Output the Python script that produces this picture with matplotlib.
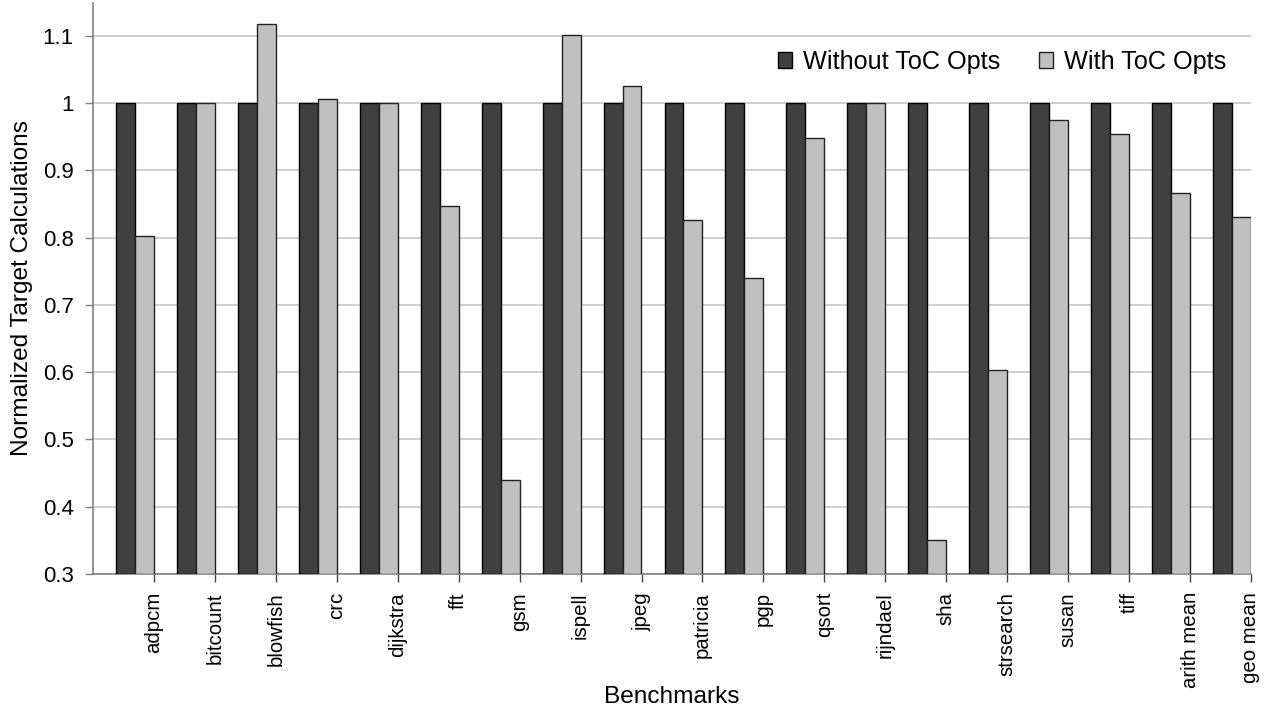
import numpy as np
import matplotlib
matplotlib.use("Agg")
import matplotlib.pyplot as plt

# ---------------- DATA ----------------
benchmarks = ["adpcm", "bitcount", "blowfish", "crc", "dijkstra", "fft", "gsm",
              "ispell", "jpeg", "patricia", "pgp", "qsort", "rijndael", "sha",
              "strsearch", "susan", "tiff", "arith mean", "geo mean"]
without_opts = [1.0] * 19
with_opts = [0.803, 1.0, 1.118, 1.007, 1.0, 0.847, 0.440, 1.101, 1.025, 0.826,
             0.740, 0.949, 1.0, 0.351, 0.604, 0.975, 0.954, 0.867, 0.831]
series_names = ["Without ToC Opts", "With ToC Opts"]

# ---------------- STYLE ----------------
plt.rcParams['font.family'] = ['Liberation Sans', 'DejaVu Sans']
XTICK_FS = 14.7
YTICK_FS = 16
LABEL_FS = 17.6
LEGEND_FS = 18.2
DARK = '#404040'
LIGHT = '#c0c0c0'
AXIS_GRAY = '#808080'

fig = plt.figure(figsize=(12.65, 7.12), dpi=100)
ax = fig.add_axes([93 / 1265, 1 - 574 / 712, (1251 - 93) / 1265, (574 - 3) / 712])

idx = np.arange(len(benchmarks))
bar_w = 0.311
ax.bar(idx + 0.377, np.array(without_opts) - 0.3, bottom=0.3, width=bar_w, align='edge',
       color=DARK, edgecolor='black', linewidth=1, label=series_names[0], zorder=3)
ax.bar(idx + 0.377 + bar_w, np.array(with_opts) - 0.3, bottom=0.3, width=bar_w, align='edge',
       color=LIGHT, edgecolor='#222222', linewidth=1, label=series_names[1], zorder=3)

ax.set_xlim(0, len(benchmarks))
ax.set_ylim(0.3, 1.149)

ax.set_yticks(np.arange(0.3, 1.11, 0.1))
ax.set_yticklabels(["0.3", "0.4", "0.5", "0.6", "0.7", "0.8", "0.9", "1", "1.1"])
ax.set_xticks(idx + 1)
ax.set_xticklabels(benchmarks, rotation=90, ha='center', va='top')

ax.tick_params(axis='y', length=6, width=1, color=AXIS_GRAY, pad=8, labelsize=YTICK_FS)
ax.tick_params(axis='x', length=6, width=1, color='#444444', pad=7, labelsize=XTICK_FS)

ax.grid(axis='y', color='#c8c8c8', linewidth=1.2, zorder=0)
ax.set_axisbelow(True)

for side in ['top', 'right']:
    ax.spines[side].set_visible(False)
ax.spines['left'].set_color(AXIS_GRAY)
ax.spines['bottom'].set_color(AXIS_GRAY)
ax.spines['left'].set_linewidth(1.2)
ax.spines['bottom'].set_linewidth(1.2)

ax.set_ylabel("Normalized Target Calculations", fontsize=LABEL_FS, va='center')
ax.yaxis.set_label_coords(-0.0613, 0.5)
ax.set_xlabel("Benchmarks", fontsize=LABEL_FS, va='center')
ax.xaxis.set_label_coords(0.5, -0.2154)

ax.legend(loc='center right', bbox_to_anchor=(0.979, 0.897), ncol=2, frameon=False,
          fontsize=LEGEND_FS, handlelength=0.57, handleheight=0.57, handletextpad=0.45,
          columnspacing=1.5, borderpad=0, borderaxespad=0)

plt.savefig("out.png", dpi=100)
